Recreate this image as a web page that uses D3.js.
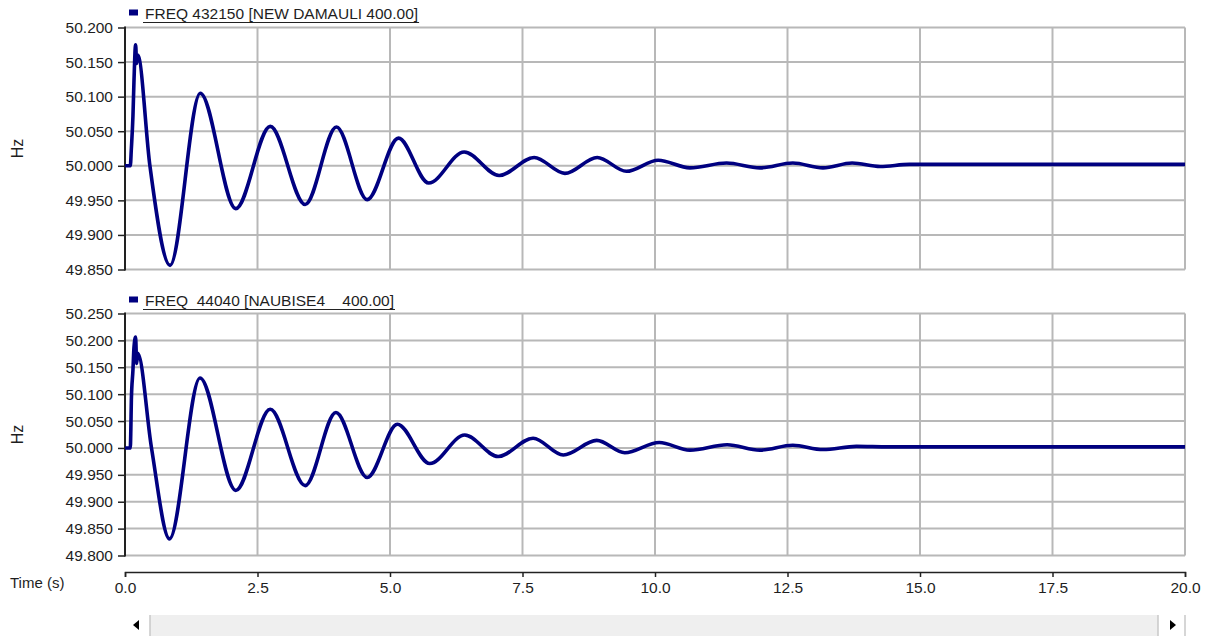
<!DOCTYPE html>
<html>
<head>
<meta charset="utf-8">
<script src="https://cdn.jsdelivr.net/npm/d3@7"></script>
<style>
  html, body { margin: 0; padding: 0; background: #fff; }
  svg { display: block; }
  text { font-family: "Liberation Sans", Arial, sans-serif; fill: #1e1e1e; }
</style>
</head>
<body>
<svg id="chart" width="1206" height="636"></svg>
<script>
// Simulated bus frequency after a disturbance (time in s, frequency in Hz)
const damauliTime = [0, 0.10, 0.12, 0.15, 0.17, 0.20, 0.22, 0.24, 0.47, 0.85, 1.42, 2.09, 2.74, 3.40, 3.99, 4.57, 5.16, 5.73, 6.40, 7.06, 7.72, 8.30, 8.91, 9.46, 10.06, 10.66, 11.35, 11.98, 12.60, 13.17, 13.72, 14.25, 14.80, 20.0];
const damauliFreq = [50.000, 50.000, 50.025, 50.072, 50.124, 50.175, 50.148, 50.160, 50.000, 49.856, 50.105, 49.938, 50.057, 49.944, 50.056, 49.951, 50.040, 49.975, 50.020, 49.986, 50.012, 49.989, 50.012, 49.992, 50.008, 49.997, 50.004, 49.997, 50.004, 49.997, 50.004, 49.999, 50.002, 50.002];

const naubiseTime = [0, 0.10, 0.11, 0.12, 0.15, 0.17, 0.20, 0.22, 0.24, 0.50, 0.84, 1.415, 2.09, 2.74, 3.40, 3.98, 4.57, 5.14, 5.75, 6.41, 7.04, 7.70, 8.27, 8.90, 9.43, 10.08, 10.66, 11.36, 11.98, 12.60, 13.17, 13.80, 14.40, 20.0];
const naubiseFreq = [50.000, 50.000, 50.033, 50.089, 50.145, 50.188, 50.206, 50.157, 50.176, 50.000, 49.831, 50.130, 49.921, 50.072, 49.930, 50.066, 49.945, 50.044, 49.971, 50.024, 49.984, 50.018, 49.987, 50.014, 49.991, 50.010, 49.996, 50.006, 49.996, 50.005, 49.997, 50.003, 50.002, 50.002];

const damauliTicks = [49.85, 49.90, 49.95, 50.00, 50.05, 50.10, 50.15, 50.20];
const naubiseTicks = [49.80, 49.85, 49.90, 49.95, 50.00, 50.05, 50.10, 50.15, 50.20, 50.25];
const timeTicks = [0, 2.5, 5, 7.5, 10, 12.5, 15, 17.5, 20];

const damauliLabel = "FREQ 432150 [NEW DAMAULI 400.00]";
const naubiseLabel = "FREQ  44040 [NAUBISE4    400.00]";
const unitLabel = "Hz";
const timeLabel = "Time (s)";

const svg = d3.select("#chart");
const left = 125, right = 1185;
const x = d3.scaleLinear().domain([0, 20]).range([left, right]);

const panels = [
  { time: damauliTime, freq: damauliFreq, ticks: damauliTicks, label: damauliLabel, top: 27.5, bottom: 269.5, legendY: 18.5 },
  { time: naubiseTime, freq: naubiseFreq, ticks: naubiseTicks, label: naubiseLabel, top: 313.5, bottom: 555.5, legendY: 305.5 }
];

panels.forEach(p => {
  const y = d3.scaleLinear()
    .domain([d3.min(p.ticks), d3.max(p.ticks)])
    .range([p.bottom, p.top]);
  const g = svg.append("g");

  // grid
  g.selectAll("line.hgrid").data(p.ticks).join("line")
    .attr("x1", left).attr("x2", right)
    .attr("y1", d => y(d)).attr("y2", d => y(d))
    .attr("stroke", "#b8b8b8").attr("stroke-width", 2);
  g.selectAll("line.vgrid").data(timeTicks.slice(1)).join("line")
    .attr("x1", d => x(d)).attr("x2", d => x(d))
    .attr("y1", p.top).attr("y2", p.bottom)
    .attr("stroke", "#b8b8b8").attr("stroke-width", 2);

  // y axis
  const ax = g.append("g")
    .attr("transform", `translate(${left},0)`)
    .call(d3.axisLeft(y).tickValues(p.ticks).tickFormat(d3.format(".3f")).tickSize(7).tickSizeOuter(0).tickPadding(5));
  ax.select(".domain").remove();
  ax.selectAll(".tick line").attr("stroke", "#222").attr("stroke-width", 1.5);
  ax.selectAll(".tick text").style("font-size", "15.5px").attr("fill", "#1e1e1e");
  g.append("line")
    .attr("x1", left).attr("x2", left)
    .attr("y1", p.top - 1).attr("y2", p.bottom + 1)
    .attr("stroke", "#222").attr("stroke-width", 2);

  // unit label
  g.append("text")
    .attr("transform", `translate(23,${(p.top + p.bottom) / 2}) rotate(-90)`)
    .attr("text-anchor", "middle")
    .style("font-size", "16px")
    .text(unitLabel);

  // series line
  const line = d3.line()
    .x((d, i) => x(p.time[i]))
    .y(d => y(d))
    .curve(d3.curveMonotoneX);
  g.append("path")
    .datum(p.freq)
    .attr("d", line)
    .attr("fill", "none")
    .attr("stroke", "#000080")
    .attr("stroke-width", 3.6)
    .attr("stroke-linejoin", "round");

  // legend
  const ly = p.legendY;
  g.append("rect")
    .attr("x", 129).attr("y", ly - 9).attr("width", 9).attr("height", 6)
    .attr("fill", "#000080");
  const lt = g.append("text")
    .attr("x", 145).attr("y", ly)
    .attr("xml:space", "preserve")
    .style("white-space", "pre")
    .style("font-size", "15.5px")
    .text(p.label);
  const w = lt.node().getComputedTextLength();
  g.append("line")
    .attr("x1", 143).attr("x2", 145 + w + 1)
    .attr("y1", ly + 4).attr("y2", ly + 4)
    .attr("stroke", "#222").attr("stroke-width", 1);
});

// time axis
const tx = svg.append("g")
  .attr("transform", "translate(0,572)")
  .call(d3.axisBottom(x).tickValues(timeTicks).tickFormat(d3.format(".1f")).tickSize(5).tickSizeOuter(5).tickPadding(5));
tx.select(".domain").attr("stroke", "#222").attr("stroke-width", 1.5);
tx.selectAll(".tick line").attr("stroke", "#222").attr("stroke-width", 1.5);
tx.selectAll(".tick text").style("font-size", "15.5px").attr("fill", "#1e1e1e");

svg.append("text")
  .attr("x", 10).attr("y", 588)
  .style("font-size", "15px")
  .text(timeLabel);

// scrollbar
const sb = svg.append("g");
sb.append("rect").attr("x", left).attr("y", 615).attr("width", right - left).attr("height", 21).attr("fill", "#efefef");
sb.append("rect").attr("x", left).attr("y", 615).attr("width", 25).attr("height", 21).attr("fill", "#fff");
sb.append("rect").attr("x", right - 27).attr("y", 615).attr("width", 27).attr("height", 21).attr("fill", "#fff");
sb.append("line").attr("x1", left + 25).attr("x2", left + 25).attr("y1", 615).attr("y2", 636).attr("stroke", "#c8c8c8").attr("stroke-width", 1.5);
sb.append("line").attr("x1", right - 27).attr("x2", right - 27).attr("y1", 615).attr("y2", 636).attr("stroke", "#c8c8c8").attr("stroke-width", 1.5);
sb.append("line").attr("x1", right).attr("x2", right).attr("y1", 615).attr("y2", 636).attr("stroke", "#c8c8c8").attr("stroke-width", 1.5);
sb.append("path").attr("d", `M${left + 8},625 l6,-5 v10 z`).attr("fill", "#000");
sb.append("path").attr("d", `M${right - 9},625 l-6,-5 v10 z`).attr("fill", "#000");
</script>
</body>
</html>
